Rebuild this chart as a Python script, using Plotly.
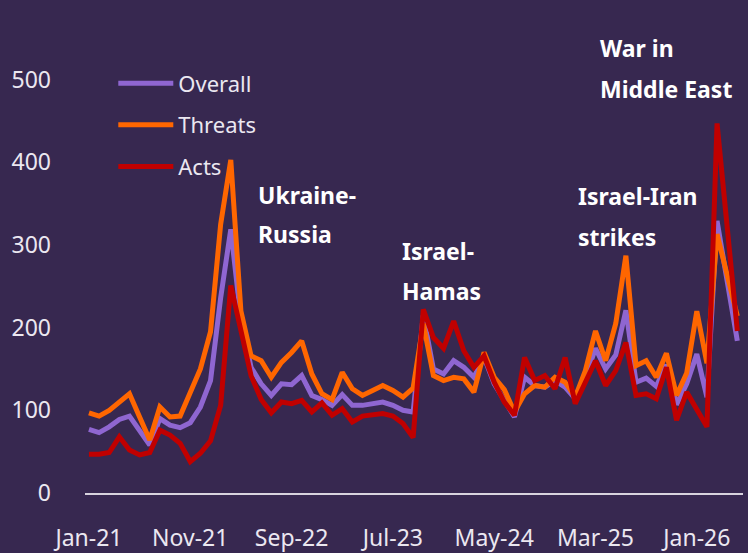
import plotly.graph_objects as go
import pandas as pd

# Monthly categories Jan-21 .. May-26
months = [d.strftime("%b-%y") for d in pd.date_range("2021-01-01", periods=65, freq="MS")]

overall = [77, 73, 80, 89, 93, 76, 58, 90, 82, 79, 85, 104, 136, 236, 319,
           210, 152, 132, 118, 132, 131, 142, 118, 113, 106, 119, 106, 106, 108, 110,
           106, 100, 98, 215, 150, 144, 160, 152, 140, 164,
           132, 112, 92, 140, 130, 128, 136, 128, 114, 140,
           175, 150, 167, 221, 134, 139, 129, 155, 107, 132,
           168, 116, 329, 256, 184]

threats = [97, 93, 100, 110, 120, 92, 64, 104, 92, 93, 120, 150, 195, 325, 403,
           220, 166, 160, 140, 158, 170, 184, 144, 120, 113, 146, 126, 118, 124, 130,
           124, 116, 127, 205, 142, 136, 140, 138, 122, 170,
           140, 125, 98, 120, 130, 128, 140, 134, 116, 148,
           196, 160, 205, 287, 154, 160, 140, 169, 118, 145,
           220, 157, 313, 263, 214]

acts = [47, 47, 49, 68, 52, 46, 49, 76, 70, 60, 38, 48, 63, 106, 251,
        196, 142, 113, 97, 110, 108, 112, 98, 109, 94, 102, 86, 93, 94, 96,
        93, 84, 67, 222, 188, 175, 208, 172, 152, 166,
        134, 110, 94, 164, 136, 142, 126, 164, 108, 134,
        160, 130, 148, 182, 118, 120, 114, 152, 88, 122,
        102, 80, 447, 320, 196]

tick_labels = ["Jan-21", "Nov-21", "Sep-22", "Jul-23", "May-24", "Mar-25", "Jan-26"]
y_ticks = [0, 100, 200, 300, 400, 500]

events = [
    ("Ukraine-", "Jan-22"), ("Russia", "Jan-22"),
    ("Israel-", "Jul-23"), ("Hamas", "Jul-23"),
    ("Israel-Iran", "Jan-25"), ("strikes", "Jan-25"),
    ("War in", "Mar-25"), ("Middle East", "Mar-25"),
]
event_y = [361, 313, 293, 244, 359, 310, 538, 489]
event_dx = [4.5, 4.5, 0.7, 0.7, 0.1, 0.1, 0.2, 0.2]

BG = "#372850"
FONT = "Noto Sans"
TXT = "#ebe7f0"

fig = go.Figure()
series = [("Overall", overall, "#8f66d1"), ("Threats", threats, "#ff6600"), ("Acts", acts, "#c00000")]
for name, vals, col in series:
    fig.add_trace(go.Scatter(x=months, y=vals, mode="lines", name=name, legendgroup=name,
                             line=dict(color=col, width=5)))

for (txt, m), yv, dx in zip(events, event_y, event_dx):
    fig.add_annotation(x=months.index(m) + dx, y=yv, text="<b>" + txt + "</b>", showarrow=False,
                       xanchor="left", yanchor="middle",
                       font=dict(family=FONT, size=23, color="#ffffff"))

fig.update_layout(
    width=748, height=553,
    margin=dict(l=85, r=5, t=30, b=60),
    paper_bgcolor=BG, plot_bgcolor=BG,
    font=dict(family=FONT, color=TXT),
    showlegend=True,
    legend=dict(x=0.043, y=0.93, xanchor="left", yanchor="top",
                bgcolor="rgba(0,0,0,0)", font=dict(family=FONT, size=22, color=TXT),
                itemwidth=55, tracegroupgap=10),
    xaxis=dict(type="category", categoryorder="array", categoryarray=months,
               range=[-0.39, 64.56], showgrid=False, zeroline=False, automargin=False,
               showline=True, linecolor="#d8d3de", linewidth=2, ticks="",
               tickvals=tick_labels, ticktext=tick_labels,
               tickfont=dict(family=FONT, size=23, color=TXT), ticklabelstandoff=23),
    yaxis=dict(range=[0, 560], showgrid=False, zeroline=False, showline=False, ticks="",
               automargin=False,
               tickvals=y_ticks, tickfont=dict(family=FONT, size=23, color=TXT),
               ticklabelstandoff=33),
)

fig.write_html("out.html", config={"displayModeBar": False},
               post_script="document.body.style.margin='0';document.body.style.background='" + BG + "';")
